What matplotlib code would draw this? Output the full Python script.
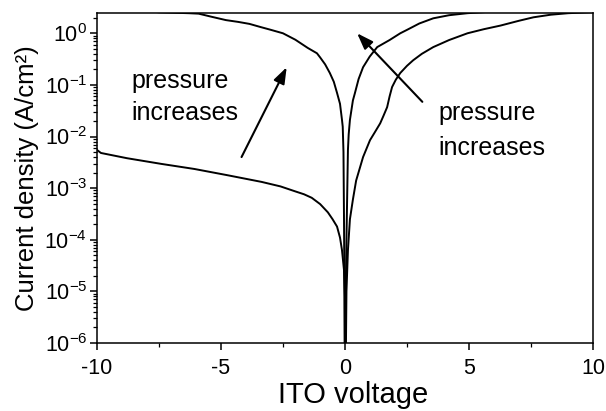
import math
import matplotlib
matplotlib.use("Agg")
import matplotlib.pyplot as plt
from matplotlib.ticker import LogLocator, FixedLocator, FuncFormatter, NullFormatter

plt.rcParams['font.family'] = ['Liberation Sans', 'DejaVu Sans']
plt.rcParams['mathtext.fontset'] = 'custom'
plt.rcParams['mathtext.rm'] = 'Liberation Sans'
plt.rcParams['mathtext.it'] = 'Liberation Sans'
plt.rcParams['mathtext.default'] = 'regular'

# ---- data ----
# low-pressure reverse branch (bottom left)
va = [-10, -9.84, -8.79, -7.41, -6.07, -4.74, -3.36, -2.6, -2.02, -1.65, -1.34, -1.0,
      -0.69, -0.5, -0.32, -0.2, -0.12, -0.04, -0.01, 0.0]
ja = [5.5e-3, 4.8e-3, 3.8e-3, 2.95e-3, 2.35e-3, 1.78e-3, 1.32e-3, 1.08e-3, 8.7e-4, 7.6e-4,
      6.5e-4, 4.9e-4, 3.4e-4, 2.5e-4, 1.8e-4, 1.1e-4, 6.3e-5, 2.6e-5, 8e-6, 1e-7]

# high-pressure reverse branch (top left)
vb = [-10, -7.5, -6.3, -5.9, -5.4, -4.8, -4.3, -3.85, -3.4, -3.0, -2.5, -2.0, -1.5, -1.13,
      -1.0, -0.8, -0.61, -0.45, -0.32, -0.2, -0.12, -0.09, -0.06, -0.04, -0.02, 0.0]
jb = [3.5, 2.55, 2.45, 2.4, 2.1, 1.8, 1.66, 1.52, 1.32, 1.17, 1.0, 0.75, 0.52, 0.41,
      0.34, 0.25, 0.17, 0.115, 0.07, 0.043, 0.021, 0.0155, 5e-3, 3e-4, 1e-5, 1e-7]

# high-pressure forward branch (inner right)
vc = [0.0, 0.03, 0.06, 0.12, 0.15, 0.2, 0.32, 0.4, 0.55, 0.73, 1.0, 1.3, 1.8, 2.23, 2.51,
      3.0, 3.56, 4.2, 4.94, 5.5, 6.0, 10]
jc = [1e-7, 1e-5, 1e-4, 5.5e-3, 0.011, 0.021, 0.05, 0.069, 0.13, 0.22, 0.355, 0.54, 0.74,
      1.0, 1.17, 1.55, 1.95, 2.24, 2.45, 2.55, 2.65, 3.5]

# low-pressure forward branch (outer right)
vd = [0.0, 0.04, 0.06, 0.12, 0.2, 0.32, 0.45, 0.73, 1.01, 1.2, 1.42, 1.55, 1.7, 1.8, 1.9,
      2.05, 2.23, 2.5, 2.75, 3.1, 3.56, 4.2, 4.94, 5.6, 6.27, 7.0, 7.6, 8.3, 9.0, 10]
jd = [1e-7, 1e-6, 1e-5, 6.3e-5, 2.5e-4, 6e-4, 1.4e-3, 4e-3, 8.5e-3, 0.012, 0.018, 0.025,
      0.037, 0.06, 0.091, 0.126, 0.17, 0.234, 0.30, 0.40, 0.54, 0.74, 1.0, 1.2, 1.41,
      1.74, 2.04, 2.29, 2.45, 2.57]

x_ticks = [-10, -5, 0, 5, 10]
x_minor = [-7.5, -2.5, 2.5, 7.5]
y_decades = [1e-6, 1e-5, 1e-4, 1e-3, 1e-2, 1e-1, 1e0]

fig = plt.figure(figsize=(6.06, 4.11), dpi=100)
ax = fig.add_axes([0.160, 0.1655, 0.8185, 0.8035])

for v, j in [(va, ja), (vb, jb), (vc, jc), (vd, jd)]:
    ax.plot(v, j, color='black', lw=1.4, solid_joinstyle='round', solid_capstyle='round')

ax.set_yscale('log')
ax.set_xlim(-10, 10)
ax.set_ylim(1e-6, 2.5)

ax.xaxis.set_major_locator(FixedLocator(x_ticks))
ax.xaxis.set_minor_locator(FixedLocator(x_minor))
ax.yaxis.set_major_locator(FixedLocator(y_decades))
ax.yaxis.set_minor_locator(LogLocator(base=10, subs=range(2, 10), numticks=20))
ax.yaxis.set_minor_formatter(NullFormatter())


def fmt(y, pos):
    e = int(round(math.log10(y)))
    return r'$10^{%d}$' % e


ax.yaxis.set_major_formatter(FuncFormatter(fmt))
ax.xaxis.set_major_formatter(FuncFormatter(lambda x, p: '%d' % x))

ax.tick_params(axis='both', which='major', direction='out', length=5, width=1.1,
               labelsize=15.5, top=False, right=False)
ax.tick_params(axis='both', which='minor', direction='out', length=3, width=0.9,
               top=False, right=False)
ax.tick_params(axis='x', pad=6)
ax.tick_params(axis='y', pad=2)
for s in ax.spines.values():
    s.set_linewidth(1.1)

ax.set_xlabel('ITO voltage', fontsize=21)
ax.xaxis.set_label_coords(0.516, -0.115)
ax.set_ylabel('Current density (A/cm²)', fontsize=18.5, labelpad=4)

# annotations
ax.text(-8.62, 0.086, 'pressure', fontsize=18, va='baseline', ha='left')
ax.text(-8.62, 0.021, 'increases', fontsize=18, va='baseline', ha='left')
ax.text(3.77, 0.021, 'pressure', fontsize=18, va='baseline', ha='left')
ax.text(3.77, 4.4e-3, 'increases', fontsize=18, va='baseline', ha='left')

arrow = dict(arrowstyle='-|>,head_length=0.7,head_width=0.25', lw=1.5, color='black',
             mutation_scale=14, shrinkA=0, shrinkB=0)
ax.annotate('', xy=(-2.35, 0.22), xytext=(-4.17, 4e-3), arrowprops=arrow)
ax.annotate('', xy=(0.49, 1.0), xytext=(3.12, 0.047), arrowprops=arrow)

fig.savefig('out.png', dpi=100)
